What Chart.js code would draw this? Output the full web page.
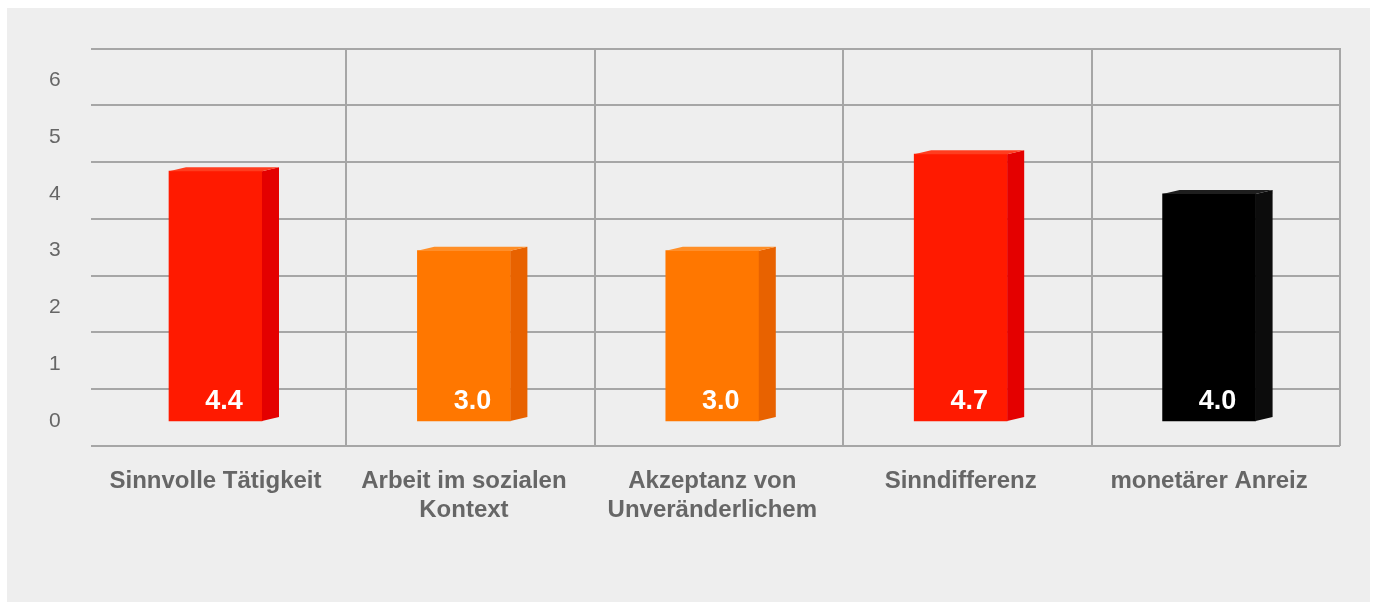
<!DOCTYPE html>
<html>
<head>
<meta charset="utf-8">
<script src="https://cdn.jsdelivr.net/npm/chart.js@4"></script>
<style>
  html, body { margin: 0; padding: 0; background: #ffffff; width: 1374px; height: 602px; overflow: hidden; }
  #panel { position: absolute; left: 7px; top: 8px; width: 1363px; height: 594px; background: #eeeeee; }
  #wrap { position: absolute; left: 0; top: 0; width: 1374px; height: 602px; }
</style>
</head>
<body>
<div id="panel"></div>
<div id="wrap"><canvas id="c" width="1374" height="602"></canvas></div>
<script>
// ---- data ----
const categories = [
  ['Sinnvolle Tätigkeit'],
  ['Arbeit im sozialen', 'Kontext'],
  ['Akzeptanz von', 'Unveränderlichem'],
  ['Sinndifferenz'],
  ['monetärer Anreiz']
];
const values = [4.4, 3.0, 3.0, 4.7, 4.0];
const yTickLabels = ['0', '1', '2', '3', '4', '5', '6'];
const frontColors = ['#ff1a00', '#ff7700', '#ff7700', '#ff1a00', '#000000'];
const sideColors  = ['#e40000', '#e86200', '#e86200', '#e40000', '#0c0c0c'];
const topColors   = ['#ff3d1f', '#ff8e26', '#ff8e26', '#ff3d1f', '#1e1e1e'];

// back-wall grid positions (in axis units)
const yGridValues = [-0.44, 0.56, 1.56, 2.56, 3.56, 4.56, 5.56, 6.56];
const xGridValues = [0.527, 1.527, 2.527, 3.527, 4.527];

const FONT = "'Liberation Sans', Arial, sans-serif";
const DEPTH_X = 17, DEPTH_Y = -4;

const bar3d = {
  id: 'bar3d',
  afterDatasetsDraw(chart) {
    const ctx = chart.ctx;
    const meta = chart.getDatasetMeta(0);
    meta.data.forEach((el, i) => {
      const p = el.getProps(['x', 'y', 'base', 'width'], true);
      const x0 = p.x - p.width / 2, x1 = p.x + p.width / 2;
      const top = p.y, base = p.base;
      ctx.save();
      // right side face
      ctx.fillStyle = sideColors[i];
      ctx.beginPath();
      ctx.moveTo(x1, top);
      ctx.lineTo(x1 + DEPTH_X, top + DEPTH_Y);
      ctx.lineTo(x1 + DEPTH_X, base + DEPTH_Y);
      ctx.lineTo(x1, base);
      ctx.closePath();
      ctx.fill();
      // top face
      ctx.fillStyle = topColors[i];
      ctx.beginPath();
      ctx.moveTo(x0, top);
      ctx.lineTo(x0 + DEPTH_X, top + DEPTH_Y);
      ctx.lineTo(x1 + DEPTH_X, top + DEPTH_Y);
      ctx.lineTo(x1, top);
      ctx.closePath();
      ctx.fill();
      // value label
      ctx.fillStyle = '#ffffff';
      ctx.font = "bold 27px " + FONT;
      ctx.textAlign = 'center';
      ctx.textBaseline = 'alphabetic';
      ctx.fillText(values[i].toFixed(1), p.x + DEPTH_X / 2, base - 12);
      ctx.restore();
    });
  }
};

new Chart(document.getElementById('c'), {
  type: 'bar',
  data: {
    datasets: [{
      data: values.map((v, i) => ({ x: i, y: v })),
      backgroundColor: frontColors,
      borderWidth: 0,
      barThickness: 93,
      xAxisID: 'x',
      yAxisID: 'y'
    }]
  },
  options: {
    responsive: false,
    animation: false,
    events: [],
    layout: { padding: { left: 49, right: 34, top: 48, bottom: 0 } },
    plugins: { legend: { display: false }, tooltip: { enabled: false } },
    scales: {
      x: {
        type: 'linear', position: 'bottom', weight: 10,
        min: -0.469, max: 4.527, offset: false,
        grid: { display: false, drawTicks: false, offset: false },
        border: { display: false },
        afterBuildTicks: (s) => { s.ticks = categories.map((_, i) => ({ value: i })); },
        afterFit: (s) => { s.height = 156; },
        ticks: {
          autoSkip: false, maxRotation: 0, minRotation: 0, padding: 21,
          color: '#666666',
          font: { family: FONT, size: 24, weight: 'bold', lineHeight: 1.2 },
          callback: (v, i) => categories[i]
        }
      },
      xGrid: {
        type: 'linear', position: 'bottom', weight: 0,
        min: -0.469, max: 4.527, offset: false,
        grid: { display: true, color: '#a6a6a6', lineWidth: 2, drawTicks: false, offset: false },
        border: { display: false },
        afterBuildTicks: (s) => { s.ticks = xGridValues.map(v => ({ value: v })); },
        afterFit: (s) => { s.height = 0; },
        ticks: { display: false }
      },
      y: {
        type: 'linear', position: 'left', weight: 10,
        min: -0.44, max: 6.57,
        grid: { display: false, drawTicks: false },
        border: { display: false },
        afterBuildTicks: (s) => { s.ticks = yTickLabels.map((_, i) => ({ value: i })); },
        afterFit: (s) => { s.width = 42; },
        ticks: {
          crossAlign: 'far', padding: 0,
          color: '#666666',
          font: { family: FONT, size: 21 },
          callback: (v, i) => yTickLabels[i]
        }
      },
      yGrid: {
        type: 'linear', position: 'left', weight: 0,
        min: -0.44, max: 6.57,
        grid: { display: true, color: '#a6a6a6', lineWidth: 2, drawTicks: true, tickLength: 8 },
        border: { display: false },
        afterBuildTicks: (s) => { s.ticks = yGridValues.map(v => ({ value: v })); },
        afterFit: (s) => { s.width = 8; },
        ticks: { display: false }
      }
    }
  },
  plugins: [bar3d]
});
</script>
</body>
</html>
